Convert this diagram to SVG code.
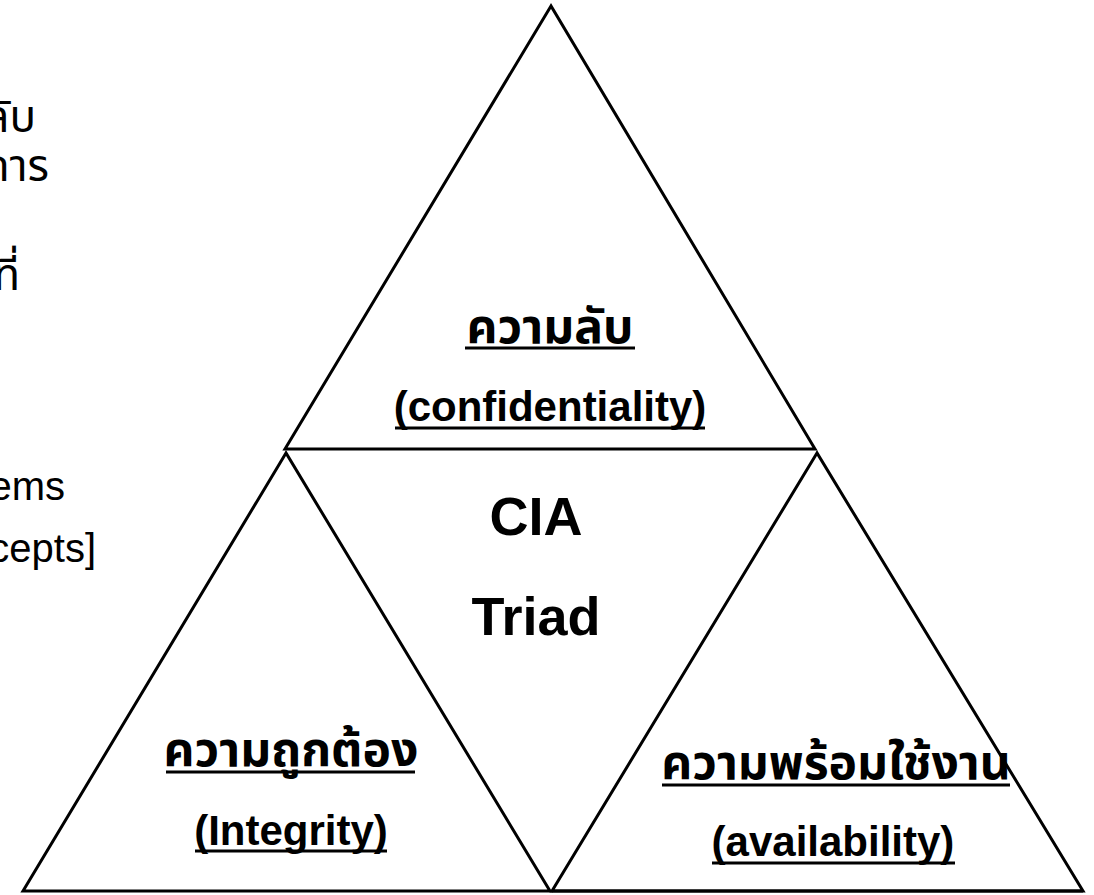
<svg xmlns="http://www.w3.org/2000/svg" width="1094" height="895" viewBox="0 0 1094 895">
  <style>
    .tri { fill: none; stroke: #000; stroke-width: 3; stroke-linejoin: miter; }
    .side { font-family: "Liberation Sans", "Noto Sans Thai", "Tahoma", sans-serif; font-size: 40px; fill: #000; }
    .side-th { font-size: 44px; }
    .th { font-family: "Liberation Sans", "Noto Sans Thai", "Tahoma", sans-serif; font-size: 48px; font-weight: bold; fill: #000; text-anchor: middle; }
    .en { font-family: "Liberation Sans", Arial, sans-serif; font-size: 42px; font-weight: bold; fill: #000; text-anchor: middle; }
    .core { font-family: "Liberation Sans", Arial, sans-serif; font-size: 54px; font-weight: bold; fill: #000; text-anchor: middle; }
    .ul { stroke: #000; stroke-width: 3; }
  </style>
  <rect width="1094" height="895" fill="#fff"/>

  <!-- text running in from the left edge -->
  <g id="side-text" class="side" text-anchor="end">
    <text class="side-th" x="36" y="132">ลับ</text>
    <text class="side-th" x="49" y="181">การ</text>
    <text class="side-th" x="20" y="290">ที่</text>
    <text x="65" y="500">ems</text>
    <text x="96" y="562">cepts]</text>
  </g>

  <!-- top: confidentiality -->
  <g id="confidentiality">
    <polygon class="tri" points="551,6 285,449 815,449"/>
    <text class="th" x="550" y="343">ความลับ</text>
    <line class="ul" x1="465" y1="348" x2="635" y2="348"/>
    <text class="en" x="550" y="421">(confidentiality)</text>
    <line class="ul" x1="395" y1="428" x2="705" y2="428"/>
  </g>

  <!-- bottom left: integrity -->
  <g id="integrity">
    <polygon class="tri" points="286,453 23,891 550,891"/>
    <text class="th" x="291" y="766">ความถูกต้อง</text>
    <line class="ul" x1="166" y1="772" x2="415" y2="772"/>
    <text class="en" x="291" y="845">(Integrity)</text>
    <line class="ul" x1="195" y1="851" x2="387" y2="851"/>
  </g>

  <!-- bottom right: availability -->
  <g id="availability">
    <polygon class="tri" points="817,453 552,891 1083,891"/>
    <line class="ul" x1="552" y1="891" x2="1083" y2="891" stroke-width="4"/>
    <text class="th" x="836" y="779">ความพร้อมใช้งาน</text>
    <line class="ul" x1="662" y1="785" x2="1010" y2="785"/>
    <text class="en" x="833" y="856">(availability)</text>
    <line class="ul" x1="712" y1="863" x2="955" y2="863"/>
  </g>

  <!-- centre title -->
  <g id="cia-triad" class="core">
    <text x="536" y="535">CIA</text>
    <text x="536" y="635">Triad</text>
  </g>
</svg>
